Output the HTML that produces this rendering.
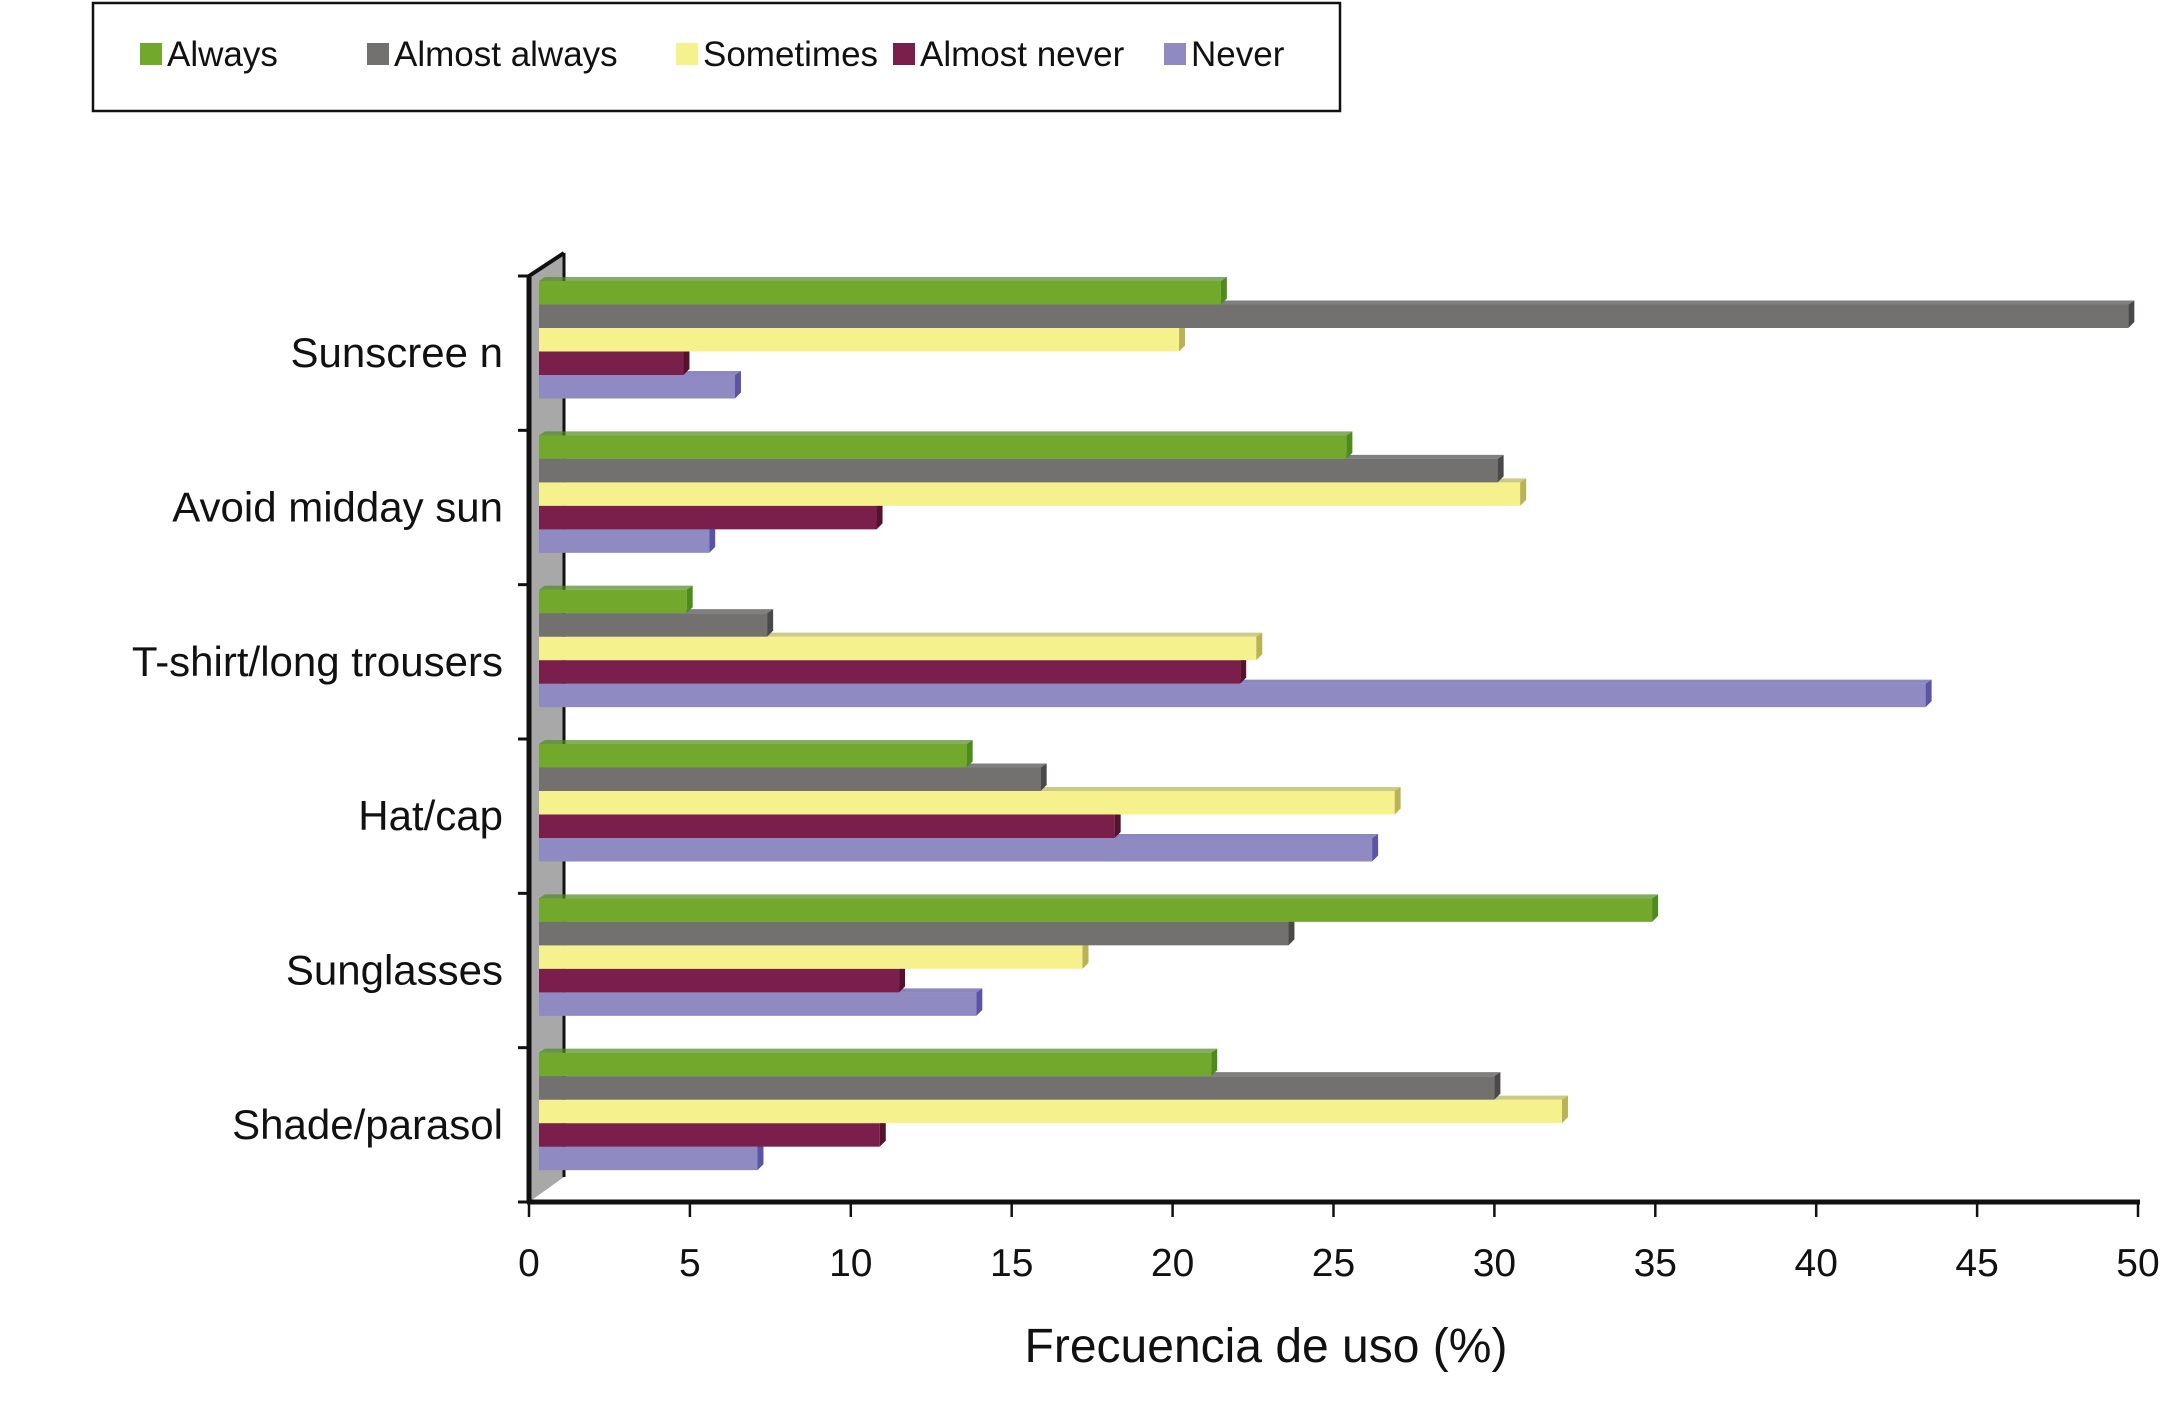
<!DOCTYPE html>
<html><head><meta charset="utf-8"><style>
html,body{margin:0;padding:0;background:#fff;}
svg{display:block;font-family:"Liberation Sans",Arial,sans-serif;}
</style></head><body>
<svg id="chart" width="2167" height="1409" viewBox="0 0 2167 1409" xmlns="http://www.w3.org/2000/svg">
<g id="legend">
<rect x="93" y="3" width="1247" height="108" fill="#fff" stroke="#111" stroke-width="2.5"/>
</g>
<polygon points="529,276 564,253 564,1177 529,1202" fill="#a8a8a8"/>
<line x1="564" y1="253" x2="564" y2="1177" stroke="#111" stroke-width="3"/>
<line x1="529" y1="276" x2="564" y2="253" stroke="#111" stroke-width="4"/>
<g id="bars"></g>
<g id="axes"></g>
<text x="1266" y="1362" font-size="48" text-anchor="middle" fill="#111">Frecuencia de uso (%)</text>
</svg>
<script>
const categories = ["Sunscree n","Avoid midday sun","T-shirt/long trousers","Hat/cap","Sunglasses","Shade/parasol"];
const seriesNames = ["Always","Almost always","Sometimes","Almost never","Never"];
const always = [21.5,25.4,4.9,13.6,34.9,21.2];
const almostAlways = [49.7,30.1,7.4,15.9,23.6,30.0];
const sometimes = [20.2,30.8,22.6,26.9,17.2,32.1];
const almostNever = [4.8,10.8,22.1,18.2,11.5,10.9];
const never = [6.4,5.6,43.4,26.2,13.9,7.1];
const xTicks = [0,5,10,15,20,25,30,35,40,45,50];

const series = [always, almostAlways, sometimes, almostNever, never];
const colors = ["#72a92c","#737070","#f5f28e","#7a1f4b","#8f8ac2"];
const dark = ["#4e8a1e","#4a4848","#b8b455","#55122f","#5a54a6"];
const NS = "http://www.w3.org/2000/svg";
const X0 = 529, X1 = 2138, Y0 = 276, YB = 1202;
const xs = v => X0 + (v - 0) / 50 * (X1 - X0);
const pitch = (YB - Y0) / categories.length;
const bandY = i => Y0 + i * pitch;
const barH = 23.5;
function mk(tag, attrs, parent){const e=document.createElementNS(NS,tag);for(const k in attrs)e.setAttribute(k,attrs[k]);parent.appendChild(e);return e;}
const bars = document.getElementById('bars');
const axes = document.getElementById('axes');
const legend = document.getElementById('legend');

categories.forEach((c, ci) => {
  for (let si = series.length - 1; si >= 0; si--) {
    const v = series[si][ci];
    const y = bandY(ci) + 5 + si * barH;
    const xe = xs(v);
    const r = mk('rect', {x: X0 + 10, y: y, width: Math.max(0, xe - X0 - 10), height: barH, fill: colors[si]}, bars);
    
    
    const t = mk('polygon', {points: `${X0+10},${y} ${X0+16},${y-4} ${xe+6},${y-4} ${xe},${y}`, fill: dark[si], opacity: 0.7}, bars);
    
    
    const s = mk('polygon', {points: `${xe},${y} ${xe+6},${y-4} ${xe+6},${y+barH-6} ${xe},${y+barH}`, fill: dark[si]}, bars);
    
    
  }
  const lab = mk('text', {x: 503, y: bandY(ci) + pitch/2 + 14, 'font-size': 42, 'text-anchor': 'end', fill: '#111'}, axes);
  lab.textContent = c;
  
  
});
for (let i = 0; i <= categories.length; i++) {
  const tk = mk('line', {x1: 518, x2: 531, y1: bandY(i), y2: bandY(i), stroke: '#111', 'stroke-width': 3}, axes);
  
  
}
const yl = mk('line', {x1: 529, x2: 529, y1: Y0, y2: YB, stroke: '#111', 'stroke-width': 5}, axes);


const xl = mk('line', {x1: 527, x2: X1 + 2, y1: YB, y2: YB, stroke: '#111', 'stroke-width': 5}, axes);


xTicks.forEach(v => {
  const tk = mk('line', {x1: xs(v), x2: xs(v), y1: YB, y2: YB + 15, stroke: '#111', 'stroke-width': 2.5}, axes);
  
  
  const t = mk('text', {x: xs(v), y: 1276, 'font-size': 39, 'text-anchor': 'middle', fill: '#111'}, axes);
  t.textContent = v;
  
  
});
const legX = [140, 367, 676, 893, 1164];
seriesNames.forEach((n, i) => {
  const sq = mk('rect', {x: legX[i], y: 43, width: 22, height: 22, fill: colors[i]}, legend);
  
  
  const t = mk('text', {x: legX[i] + 27, y: 66, 'font-size': 35, fill: '#111'}, legend);
  t.textContent = n;
  
  
});
</script>
</body></html>
